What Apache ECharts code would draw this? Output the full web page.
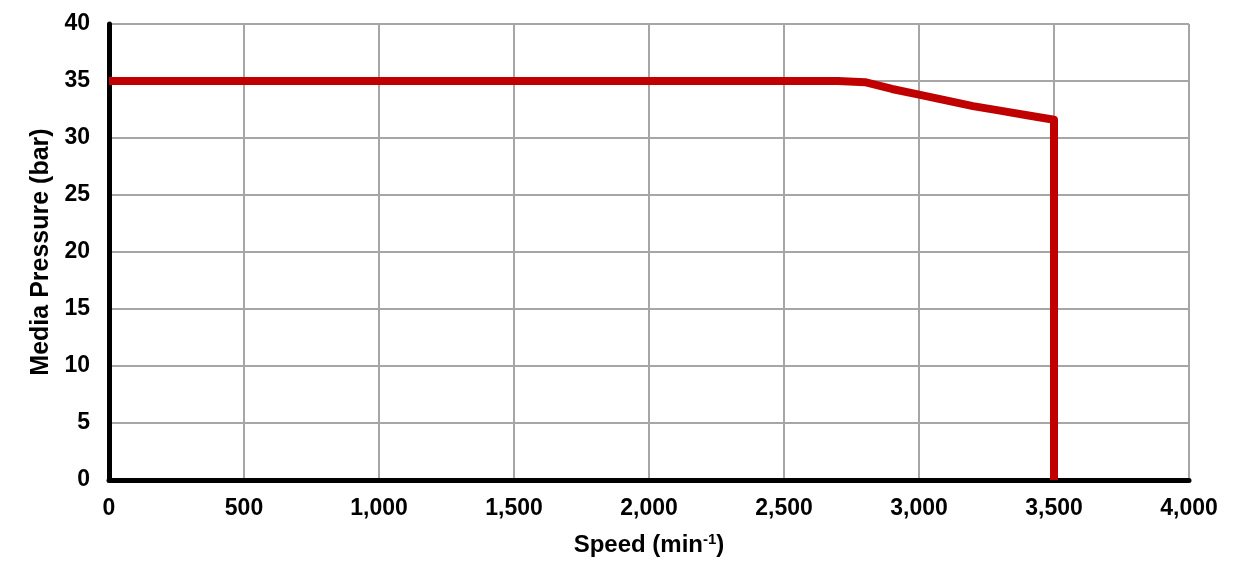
<!DOCTYPE html>
<html>
<head>
<meta charset="utf-8">
<script src="https://cdn.jsdelivr.net/npm/echarts@6/dist/echarts.min.js"></script>
<style>html,body{margin:0;padding:0;background:#fff;}#c{width:1244px;height:584px;}</style>
</head>
<body>
<div id="c"></div>
<script>
const speed = [0, 2700, 2800, 2900, 3000, 3100, 3200, 3300, 3400, 3500, 3500];
const pressure = [35, 35, 34.9, 34.3, 33.8, 33.3, 32.8, 32.4, 32.0, 31.6, 0];
const xTicks = [0, 500, 1000, 1500, 2000, 2500, 3000, 3500, 4000];
const yTicks = [0, 5, 10, 15, 20, 25, 30, 35, 40];

const chart = echarts.init(document.getElementById('c'));
const font = 'Liberation Sans, Arial, sans-serif';
chart.setOption({
  animation: false,
  grid: { left: 109, right: 55, top: 24, bottom: 104 },
  xAxis: {
    type: 'value', min: xTicks[0], max: xTicks[xTicks.length-1], interval: 500,
    name: 'Speed (min{sup|-1})', nameLocation: 'middle', nameGap: 52,
    nameTextStyle: { fontFamily: font, fontWeight: 'bold', fontSize: 24, color: '#000',
      rich: { sup: { fontFamily: font, fontWeight: 'bold', fontSize: 15, color: '#000', verticalAlign: 'top', padding: [0,0,12,0] } } },
    axisLine: { show: true, lineStyle: { color: '#000', width: 5 } },
    axisTick: { show: false },
    splitLine: { show: true, lineStyle: { color: '#a6a6a6', width: 2 } },
    axisLabel: { fontFamily: font, fontWeight: 'bold', fontSize: 23, color: '#000', margin: 17,
      formatter: v => v.toLocaleString('en-US') }
  },
  yAxis: {
    type: 'value', min: yTicks[0], max: yTicks[yTicks.length-1], interval: 5,
    name: 'Media Pressure (bar)', nameLocation: 'middle', nameGap: 53,
    nameTextStyle: { fontFamily: font, fontWeight: 'bold', fontSize: 25, color: '#000' },
    axisLine: { show: true, lineStyle: { color: '#000', width: 5 } },
    axisTick: { show: false },
    splitLine: { show: true, lineStyle: { color: '#a6a6a6', width: 2 } },
    axisLabel: { fontFamily: font, fontWeight: 'bold', fontSize: 23, color: '#000', margin: 19 }
  },
  series: [{
    type: 'line', data: speed.map((s, i) => [s, pressure[i]]),
    symbol: 'none', lineStyle: { color: '#c00000', width: 8, join: 'round' }
  }]
});
</script>
</body>
</html>
